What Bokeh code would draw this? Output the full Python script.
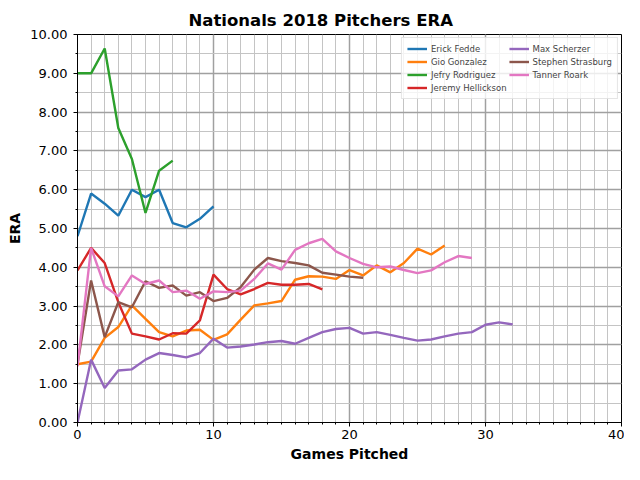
from bokeh.embed import file_html
from bokeh.resources import INLINE
from bokeh.plotting import figure
from bokeh.models import FixedTicker, PrintfTickFormatter, Range1d, Legend, LegendItem

# ERA after each game pitched (game 0 = start of season)
erick_fedde = [4.80, 5.90, 5.64, 5.33, 6.00, 5.81, 6.00, 5.14, 5.03, 5.25, 5.57]
gio_gonzalez = [1.50, 1.57, 2.18, 2.46, 3.02, 2.67, 2.33, 2.22, 2.37, 2.39, 2.13,
                2.27, 2.65, 3.02, 3.07, 3.13, 3.68, 3.77, 3.76, 3.70, 3.93,
                3.79, 4.05, 3.87, 4.11, 4.48, 4.33, 4.56]
jefry_rodriguez = [9.00, 9.00, 9.64, 7.59, 6.79, 5.40, 6.49, 6.75]
jeremy_hellickson = [3.92, 4.50, 4.11, 3.10, 2.29, 2.22, 2.14, 2.30, 2.29, 2.63, 3.81,
                     3.44, 3.30, 3.44, 3.60, 3.55, 3.55, 3.57, 3.43]
max_scherzer = [0.00, 1.62, 0.89, 1.34, 1.37, 1.62, 1.79, 1.74, 1.68, 1.79, 2.16,
                1.93, 1.96, 2.01, 2.07, 2.10, 2.03, 2.18, 2.33, 2.41, 2.44,
                2.29, 2.33, 2.26, 2.18, 2.11, 2.14, 2.22, 2.29, 2.33, 2.52,
                2.58, 2.53]
stephen_strasburg = [1.50, 3.66, 2.20, 3.10, 2.97, 3.64, 3.47, 3.53, 3.27, 3.36, 3.13,
                     3.21, 3.49, 3.94, 4.24, 4.16, 4.11, 4.05, 3.86, 3.81, 3.76,
                     3.73]
tanner_roark = [1.45, 4.50, 3.51, 3.25, 3.79, 3.57, 3.66, 3.36, 3.40, 3.19, 3.38,
                3.36, 3.40, 3.70, 4.10, 3.94, 4.45, 4.62, 4.73, 4.41, 4.24,
                4.09, 4.00, 4.02, 3.93, 3.85, 3.92, 4.13, 4.29, 4.24]

pitchers = ["Erick Fedde", "Gio Gonzalez", "Jefry Rodriguez", "Jeremy Hellickson",
            "Max Scherzer", "Stephen Strasburg", "Tanner Roark"]
series = [erick_fedde, gio_gonzalez, jefry_rodriguez, jeremy_hellickson,
          max_scherzer, stephen_strasburg, tanner_roark]
colors = ["#1f77b4", "#ff7f0e", "#2ca02c", "#d62728", "#9467bd", "#8c564b", "#e377c2"]

x_ticks = [0, 10, 20, 30, 40]
y_ticks = [0, 1, 2, 3, 4, 5, 6, 7, 8, 9, 10]

p = figure(width=624, height=464, output_backend="svg", toolbar_location=None,
           title="Nationals 2018 Pitchers ERA",
           x_range=Range1d(0, 40), y_range=Range1d(0, 10),
           min_border_left=77, min_border_right=3, min_border_top=34,
           min_border_bottom=42)

p.title.align = "left"
p.title.offset = 111
p.title.text_font = "DejaVu Sans"
p.title.text_font_size = "16.5px"
p.title.text_font_style = "bold"
p.title.text_color = "black"
p.title.standoff = 9

p.xaxis.ticker = FixedTicker(ticks=x_ticks, minor_ticks=list(range(0, 41)))
p.yaxis.ticker = FixedTicker(ticks=y_ticks, minor_ticks=[i * 0.5 for i in range(21)])
p.yaxis.formatter = PrintfTickFormatter(format="%.2f")

p.xaxis.axis_label = "Games Pitched"
p.yaxis.axis_label = "ERA"
for ax in (p.xaxis[0], p.yaxis[0]):
    ax.axis_label_text_font = "DejaVu Sans"
    ax.axis_label_text_font_size = "14px"
    ax.axis_label_text_font_style = "bold"
    ax.axis_label_text_color = "black"
    ax.major_label_text_font = "DejaVu Sans"
    ax.major_label_text_font_size = "13px"
    ax.major_label_text_color = "black"
    ax.axis_line_color = "black"
    ax.major_tick_line_color = "black"
    ax.minor_tick_line_color = "black"
    ax.major_tick_out = 4
    ax.major_tick_in = 0
    ax.minor_tick_out = 2
    ax.minor_tick_in = 0
p.xaxis.major_label_standoff = 3
p.xaxis.axis_label_standoff = 4
p.yaxis.major_label_standoff = 6
p.yaxis.axis_label_standoff = 4

p.outline_line_color = "black"
p.outline_line_width = 1

for g in (p.xgrid[0], p.ygrid[0]):
    g.grid_line_color = "#a0a0a0"
    g.grid_line_width = 1.5
    g.minor_grid_line_color = "#c4c4c4"
    g.minor_grid_line_width = 1

items = []
for name, vals, col in zip(pitchers, series, colors):
    r = p.line(list(range(len(vals))), vals, line_color=col, line_width=2.4)
    items.append(LegendItem(label=name, renderers=[r]))

legend = Legend(items=items, location="top_right", ncols=2,
                label_text_font="DejaVu Sans", label_text_font_size="8.5px",
                label_height=11, glyph_height=11, glyph_width=20,
                spacing=2, padding=5, margin=3, label_standoff=4,
                border_line_color="#cccccc", background_fill_alpha=0.8)
p.add_layout(legend)

open("out.html", "w").write(file_html(p, INLINE))
